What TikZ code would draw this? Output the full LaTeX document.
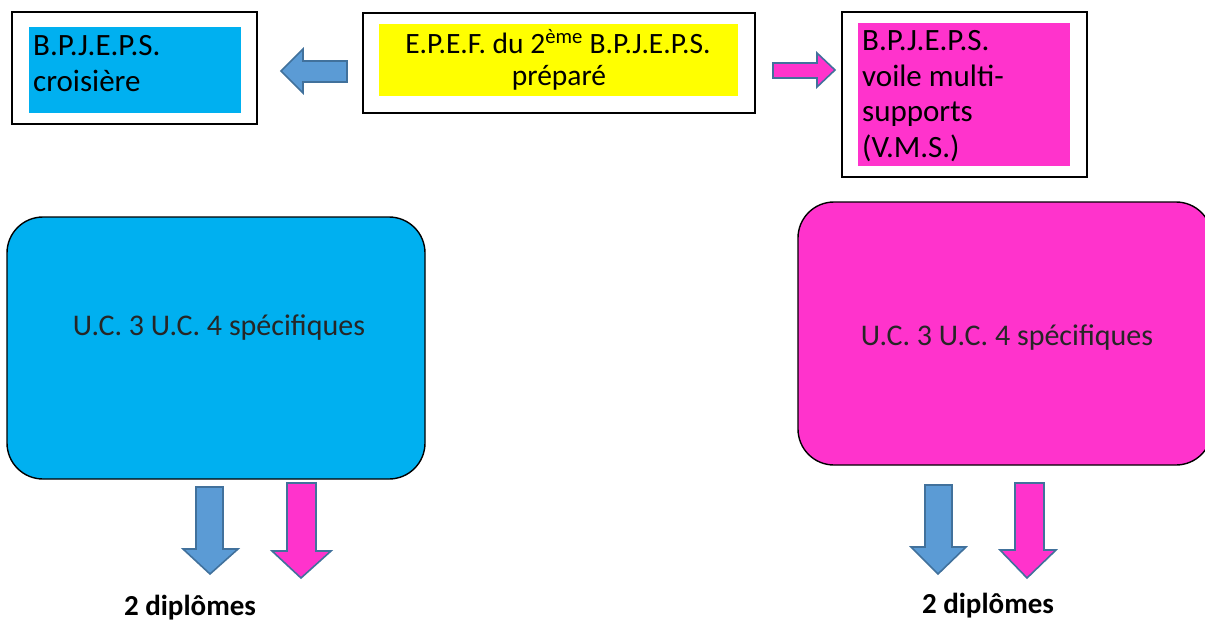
\documentclass[tikz,border=0pt]{standalone}
\usepackage{fontspec}
\setmainfont{Carlito}
\definecolor{cyanbox}{HTML}{00B0F0}
\definecolor{pinkbox}{HTML}{FF33CC}
\definecolor{yellowbox}{HTML}{FFFF00}
\definecolor{arrowblue}{HTML}{5B9BD5}
\definecolor{arrowedge}{HTML}{41719C}
\tikzset{
  frame/.style={draw=black, line width=1.6pt, fill=white},
  ucbox/.style={draw=black, line width=1.4pt, rounded corners=36pt},
  txt/.style={inner sep=0pt, anchor=base west, font=\fontsize{31}{36}\selectfont},
  ctxt/.style={inner sep=0pt, anchor=base, font=\fontsize{29.5}{35}\selectfont},
  uctxt/.style={inner sep=0pt, anchor=base, font=\fontsize{30}{36}\selectfont\color{black!85}},
  diptxt/.style={inner sep=0pt, anchor=base, font=\fontsize{29}{35}\selectfont\bfseries},
  bigarrow/.style={draw=arrowedge, line width=1.6pt, line join=miter},
}
\begin{document}
\begin{tikzpicture}[x=1pt,y=-1pt]
\useasboundingbox (0,0) rectangle (1205,621);
% top-left box
\draw[frame] (12,12) rectangle (257,124);
\fill[cyanbox] (29,27) rectangle (241,113);
\node[txt] (l1) at (33,55) {B.P.J.E.P.S.};
\node[txt] (l2) at (33,91) {croisière};
% middle box
\draw[frame] (363,13) rectangle (755,113);
\fill[yellowbox] (379,24) rectangle (738,96);
\node[ctxt] (m1) at (558,53) {E.P.E.F. du 2\textsuperscript{ème} B.P.J.E.P.S.};
\node[ctxt] (m2) at (559,85) {préparé};
% right box
\draw[frame] (842,12) rectangle (1087,177);
\fill[pinkbox] (858,23) rectangle (1070,166);
\node[txt] (r1) at (862,50) {B.P.J.E.P.S.};
\node[txt] (r2) at (862,86.5) {voile multi-};
\node[txt] (r3) at (862,121.5) {supports};
\node[txt] (r4) at (862,157) {(V.M.S.)};
% left arrow (blue)
\draw[bigarrow, fill=arrowblue] (347,61) -- (303,61) -- (303,49) -- (281,71) -- (303,93) -- (303,82) -- (347,82) -- cycle;
% right arrow (pink)
\draw[bigarrow, fill=pinkbox] (773,63) -- (817,63) -- (817,53) -- (835,70) -- (817,87) -- (817,78) -- (773,78) -- cycle;
% U.C. boxes
\draw[ucbox, fill=cyanbox] (7,217) rectangle (425,479);
\node[uctxt] (uc1) at (219,335) {U.C. 3 U.C. 4 spécifiques};
\draw[ucbox, fill=pinkbox] (798,202) rectangle (1212,465);
\node[uctxt] (uc2) at (1007,345) {U.C. 3 U.C. 4 spécifiques};
% down arrows left
\draw[bigarrow, fill=arrowblue] (196,487) -- (223,487) -- (223,549) -- (238,549) -- (210,574) -- (183,549) -- (196,549) -- cycle;
\draw[bigarrow, fill=pinkbox] (287,483) -- (316,483) -- (316,551) -- (331,551) -- (301,578) -- (272,551) -- (287,551) -- cycle;
% down arrows right
\draw[bigarrow, fill=arrowblue] (925,485) -- (952,485) -- (952,547) -- (966,547) -- (938,574) -- (911,547) -- (925,547) -- cycle;
\draw[bigarrow, fill=pinkbox] (1015,483) -- (1044,483) -- (1044,550) -- (1056,550) -- (1027,578) -- (1000,550) -- (1015,550) -- cycle;
% diplomas
\node[diptxt] (d1) at (190,615) {2 diplômes};
\node[diptxt] (d2) at (988,613) {2 diplômes};
\end{tikzpicture}
\end{document}
